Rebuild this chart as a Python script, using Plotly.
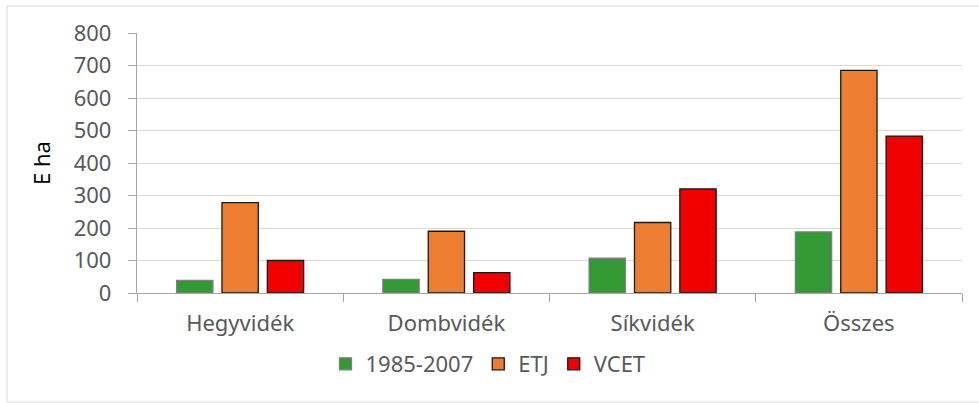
import plotly.graph_objects as go

# Land area by landscape type (thousand hectares)
categories = ["Hegyvidék", "Dombvidék", "Síkvidék", "Összes"]
series_names = ["1985-2007", "ETJ", "VCET"]
values_1985_2007 = [39, 42, 107, 188]
values_etj = [278, 190, 217, 685]
values_vcet = [100, 63, 320, 483]
y_ticks = [0, 100, 200, 300, 400, 500, 600, 700, 800]

fill_colors = ["#339933", "#ED7D31", "#F00000"]
edge_colors = ["#7F7F7F", "#1A1A1A", "#1A1A1A"]
text_color = "#595959"
font_family = "Noto Sans, Open Sans, Liberation Sans, sans-serif"
fs = 22

fig = go.Figure()
for name, vals, fc, ec in zip(series_names,
                              [values_1985_2007, values_etj, values_vcet],
                              fill_colors, edge_colors):
    fig.add_trace(go.Bar(
        name=name, x=categories, y=vals,
        marker=dict(color=fc, line=dict(color=ec, width=1.3)),
    ))

W, H = 979, 403
ml, mr, mt, mb = 137, 17, 33, 110
pw, ph = W - ml - mr, H - mt - mb

fig.update_layout(
    width=W, height=H,
    margin=dict(l=ml, r=mr, t=mt, b=mb),
    paper_bgcolor="white", plot_bgcolor="white",
    barmode="group", bargap=0.34, bargroupgap=0.2,
    font=dict(family=font_family, size=fs, color=text_color),
    showlegend=True,
    legend=dict(
        orientation="h", x=(488 - ml) / pw, xanchor="center",
        y=-(364 - (mt + ph)) / ph, yanchor="middle",
        font=dict(size=fs, color=text_color),
        itemwidth=30, traceorder="normal",
        bgcolor="rgba(0,0,0,0)",
    ),
    xaxis=dict(
        showline=True, linecolor="#A6A6A6", linewidth=1.3,
        ticks="outside", tickson="boundaries", ticklen=8,
        tickcolor="#A6A6A6", tickwidth=1.3,
        showgrid=False, tickfont=dict(size=fs, color=text_color),
        ticklabelstandoff=10,
    ),
    yaxis=dict(
        range=[0, 800], tickvals=y_ticks,
        showline=True, linecolor="#A6A6A6", linewidth=1.3,
        ticks="outside", ticklen=8, tickcolor="#A6A6A6", tickwidth=1.3,
        showgrid=True, gridcolor="#D9D9D9", gridwidth=1.3,
        zeroline=False,
        tickfont=dict(size=fs, color=text_color),
        ticklabelstandoff=12,
        title=dict(text="E ha", font=dict(size=fs, color="#000000"), standoff=16),
    ),
    shapes=[dict(
        type="rect", xref="paper", yref="paper",
        x0=(7 - ml) / pw, x1=(W + 10 - ml) / pw,
        y0=-(402 - (mt + ph)) / ph, y1=1 + (mt - 6) / ph,
        line=dict(color="#D9D9D9", width=1), fillcolor="rgba(0,0,0,0)",
        layer="below",
    )],
)

fig.write_html("out.html")
